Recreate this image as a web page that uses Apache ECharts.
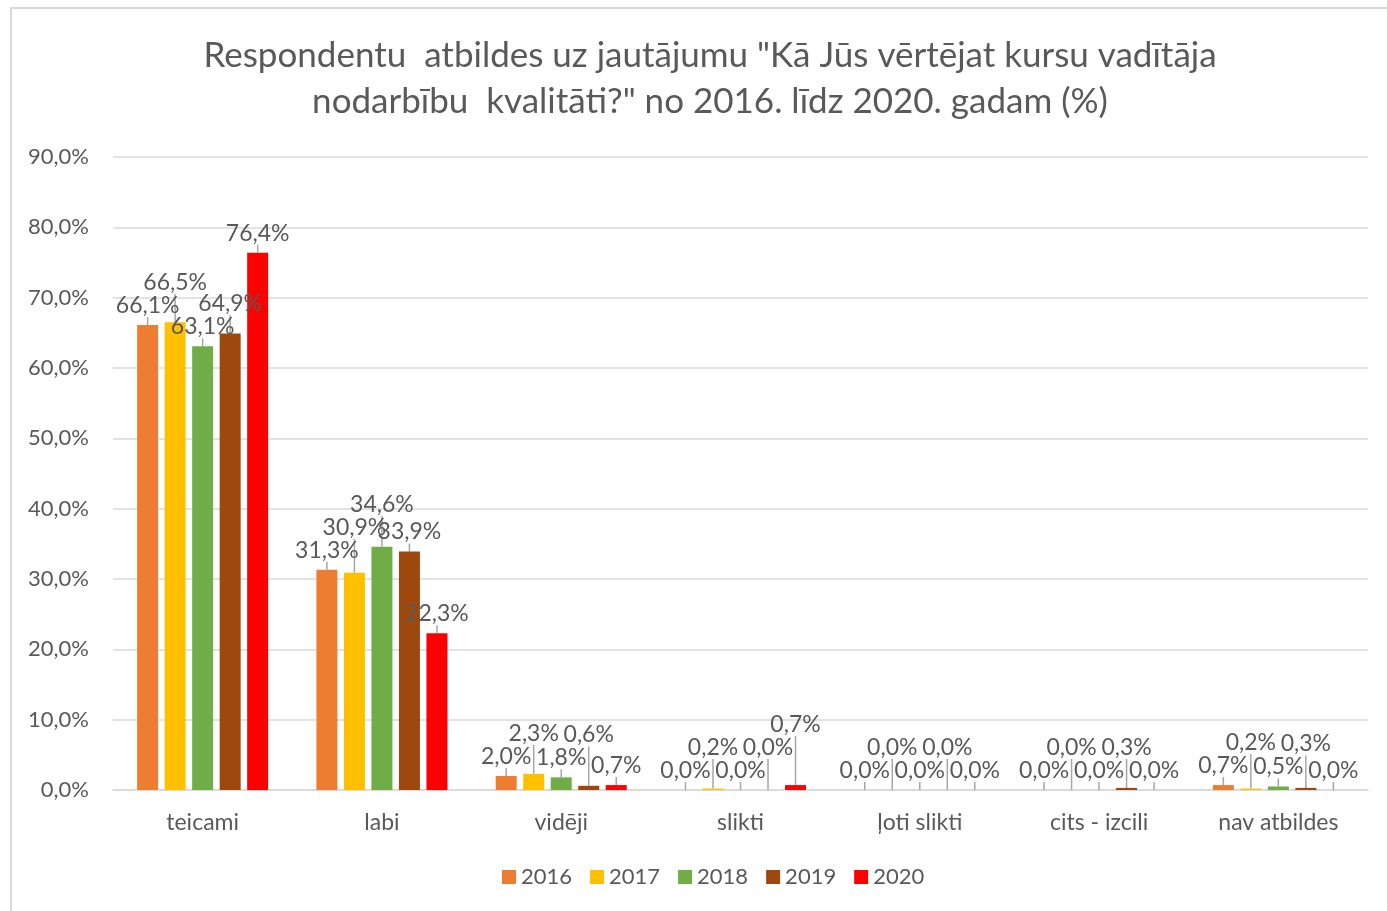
<!DOCTYPE html>
<html><head><meta charset="utf-8">
<script src="https://cdn.jsdelivr.net/npm/echarts@6/dist/echarts.min.js"></script>
<style>
html,body{margin:0;padding:0;background:#fff;}
#frame{position:absolute;left:10px;top:7px;width:1400px;height:920px;border:2px solid #d9d9d9;box-sizing:border-box;}
#c{position:absolute;left:0;top:0;width:1387px;height:911px;}
</style></head>
<body><div id="frame"></div><div id="c"></div>
<script>
const categories = ['teicami','labi','vidēji','slikti','ļoti slikti','cits - izcili','nav atbildes'];
const years = ['2016','2017','2018','2019','2020'];
const v2016 = [66.1, 31.3, 2.0, 0.0, 0.0, 0.0, 0.7];
const v2017 = [66.5, 30.9, 2.3, 0.2, 0.0, 0.0, 0.2];
const v2018 = [63.1, 34.6, 1.8, 0.0, 0.0, 0.0, 0.5];
const v2019 = [64.9, 33.9, 0.6, 0.0, 0.0, 0.3, 0.3];
const v2020 = [76.4, 22.3, 0.7, 0.7, 0.0, 0.0, 0.0];
const colors = ['#ED7D31','#FFC000','#70AD47','#9E480E','#FF0000'];
const values = [v2016, v2017, v2018, v2019, v2020];
const yTicks = {min:0, max:90, interval:10};
const FONT = 'Lato, "Open Sans", sans-serif';
const fmt = v => v.toFixed(1).replace('.', ',') + '%';

// Greedy label de-overlap (like Excel's leader-line labels): a label that collides
// with its neighbour's label in the same category is lifted above it.
let placed = {};
function avoidOverlap(params) {
  if (params.seriesIndex === 0 && params.dataIndex === 0) placed = {};
  const r = params.labelRect;
  const key = params.dataIndex;
  const list = placed[key] || (placed[key] = []);
  const cx = r.x + r.width / 2;
  let top = r.y, h = r.height - 2;
  let moved = true;
  while (moved) {
    moved = false;
    for (const p of list) {
      if (Math.abs(p.cx - cx) < 40 && Math.abs(p.top - top) < h) {
        top = p.top - h - 2;
        moved = true;
      }
    }
  }
  list.push({cx, top});
  return {dy: top - r.y};
}

const chart = echarts.init(document.getElementById('c'));
chart.setOption({
  animation: false,
  textStyle: {fontFamily: FONT},
  title: {
    text: 'Respondentu  atbildes uz jautājumu "Kā Jūs vērtējat kursu vadītāja\nnodarbību  kvalitāti?" no 2016. līdz 2020. gadam (%)',
    left: 705, top: 28, textAlign: 'center',
    textStyle: {fontFamily: FONT, fontSize: 35, fontWeight: 'normal', color: '#595959', lineHeight: 46}
  },
  legend: {
    data: years, bottom: 18, left: 497, itemWidth: 14, itemHeight: 14, itemGap: 18,
    icon: 'rect',
    textStyle: {fontFamily: FONT, fontSize: 22, color: '#595959'}
  },
  grid: {left: 113, right: 19, top: 157, bottom: 121, containLabel: false},
  xAxis: {
    type: 'category', data: categories,
    axisLine: {lineStyle: {color: '#d9d9d9', width: 1.5}},
    axisTick: {show: false},
    axisLabel: {fontFamily: FONT, fontSize: 23, color: '#595959', margin: 21}
  },
  yAxis: {
    type: 'value', min: yTicks.min, max: yTicks.max, interval: yTicks.interval,
    axisLine: {show: false}, axisTick: {show: false},
    splitLine: {lineStyle: {color: '#d9d9d9', width: 1.5}},
    axisLabel: {fontFamily: FONT, fontSize: 22, color: '#595959', margin: 24, formatter: v => fmt(v)}
  },
  series: years.map((y, i) => ({
    name: y, type: 'bar', data: values[i],
    barWidth: 21, barGap: '31%', barCategoryGap: '27%',
    itemStyle: {color: colors[i]},
    label: {show: true, position: 'top', distance: 8, fontFamily: FONT, fontSize: 23, color: '#595959',
      formatter: p => fmt(p.value)},
    labelLayout: avoidOverlap,
    labelLine: {show: true, length2: 0, lineStyle: {color: '#a6a6a6', width: 1.5}}
  }))
});
</script></body></html>
